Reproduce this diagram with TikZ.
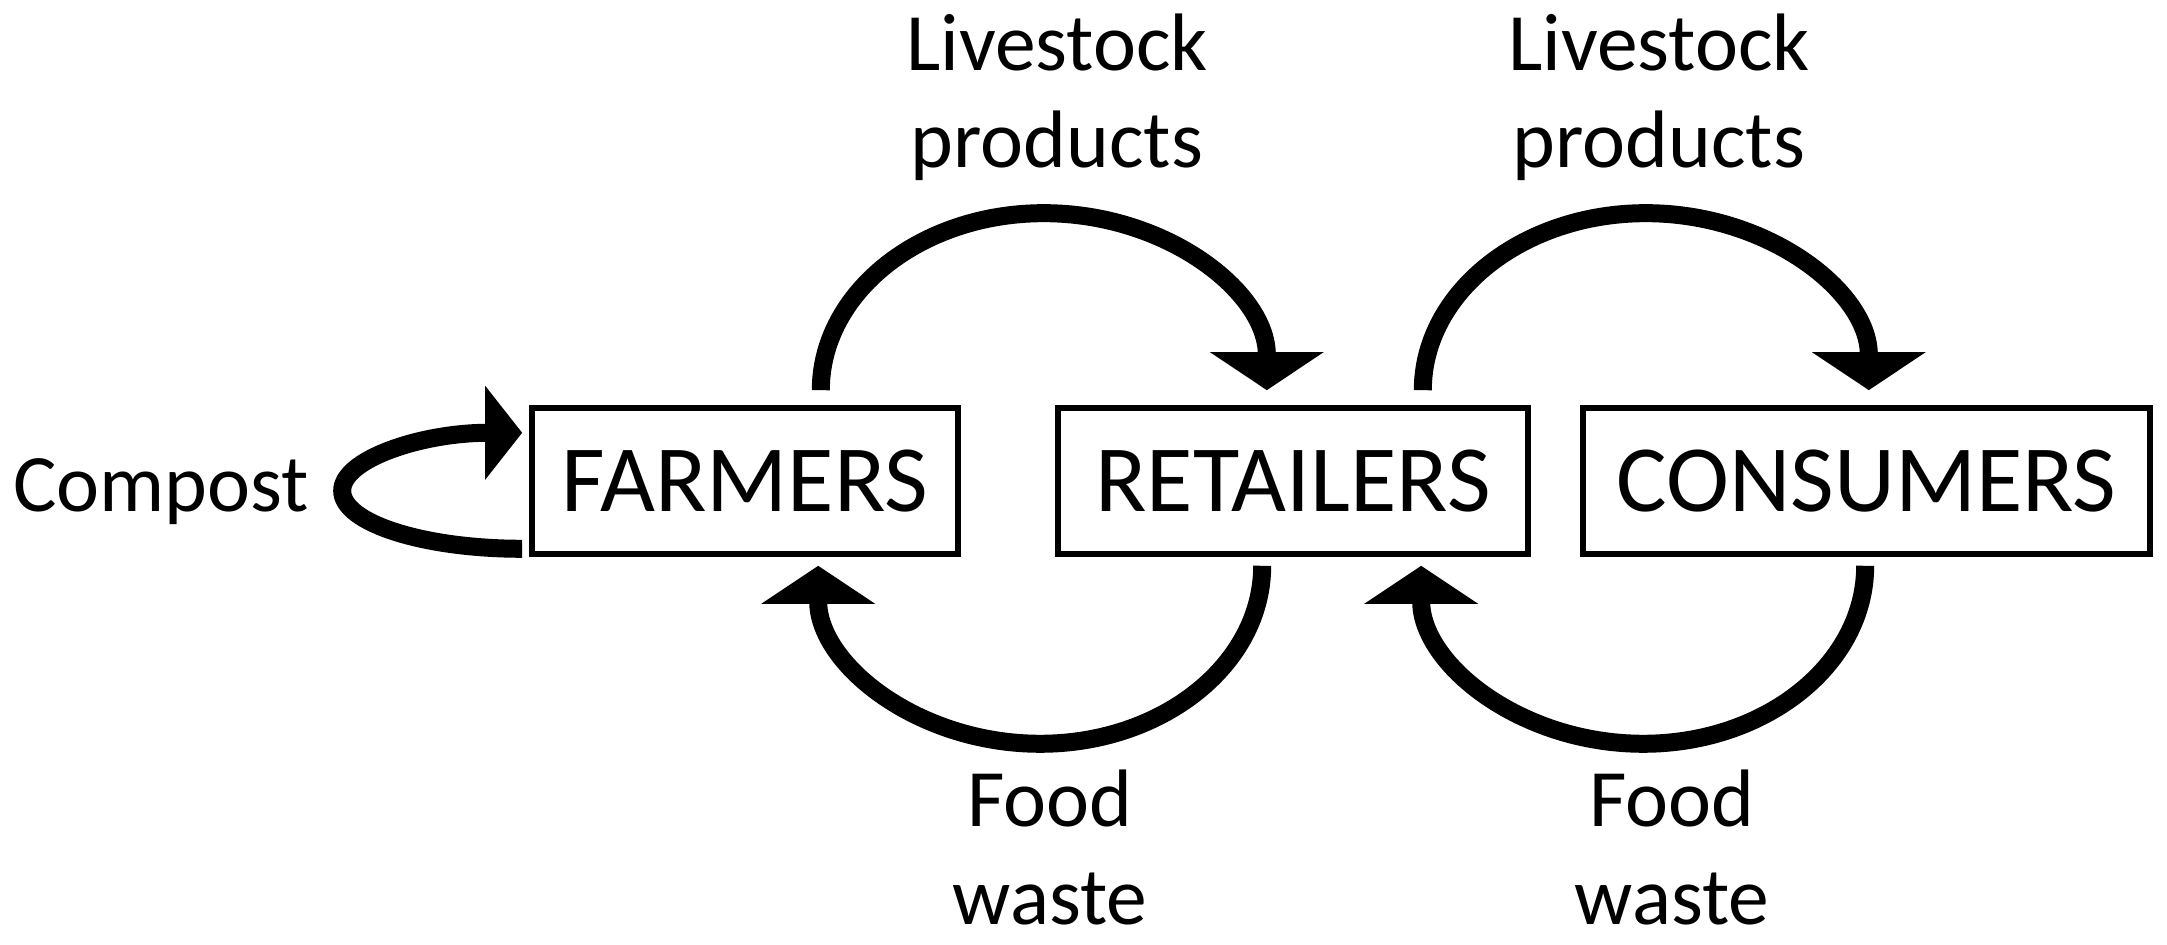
\documentclass[tikz,border=0pt]{standalone}
\usepackage{fontspec}
\setmainfont{Carlito}
\usetikzlibrary{arrows.meta}

\begin{document}
\begin{tikzpicture}[
    actor/.style = {draw, line width=1.6pt, inner sep=0pt, minimum height=1.46cm, font=\fontsize{27}{32}\selectfont},
    flow/.style = {line width=0.18cm, -{Triangle[width=1.12cm,length=0.38cm]}},
    tag/.style = {inner sep=0pt, align=center, font=\fontsize{23.2}{27.8}\selectfont}
]
    \useasboundingbox (0,0) rectangle (21.67,9.45);

    \node [actor, minimum width=4.26cm] (farmers) at (7.45,4.64) {FARMERS};
    \node [actor, minimum width=4.70cm] (retailers) at (12.93,4.64) {RETAILERS};
    \node [actor, minimum width=5.67cm] (consumers) at (18.665,4.64) {CONSUMERS};

    % products go up the chain
    \draw [flow] ([xshift=-1.40cm,yshift=0.15cm]farmers.north east) arc [start angle=180, end angle=0, x radius=2.23cm, y radius=1.77cm];
    \draw [flow] ([xshift=-1.08cm,yshift=0.15cm]retailers.north east) arc [start angle=180, end angle=0, x radius=2.23cm, y radius=1.77cm];

    % waste comes back
    \draw [flow] ([xshift=2.07cm,yshift=-0.09cm]retailers.south west) arc [start angle=0, end angle=-180, x radius=2.22cm, y radius=1.78cm];
    \draw [flow] ([xshift=2.85cm,yshift=-0.09cm]consumers.south west) arc [start angle=0, end angle=-180, x radius=2.22cm, y radius=1.78cm];

    \draw [flow, -{Triangle[width=0.92cm,length=0.37cm]}] ([xshift=-0.07cm,yshift=0.08cm]farmers.south west) arc [start angle=270, end angle=90, x radius=1.80cm, y radius=0.58cm];

    \node [tag, anchor=base] (compost) at (1.61,4.33) {Compost};
    \node [tag, anchor=north] (goods1) at (10.57,9.32) {Livestock\\products};
    \node [tag, anchor=north] (goods2) at (16.59,9.32) {Livestock\\products};
    \node [tag, anchor=north] (waste1) at (10.50,1.76) {Food\\waste};
    \node [tag, anchor=north] (waste2) at (16.72,1.76) {Food\\waste};
\end{tikzpicture}
\end{document}
